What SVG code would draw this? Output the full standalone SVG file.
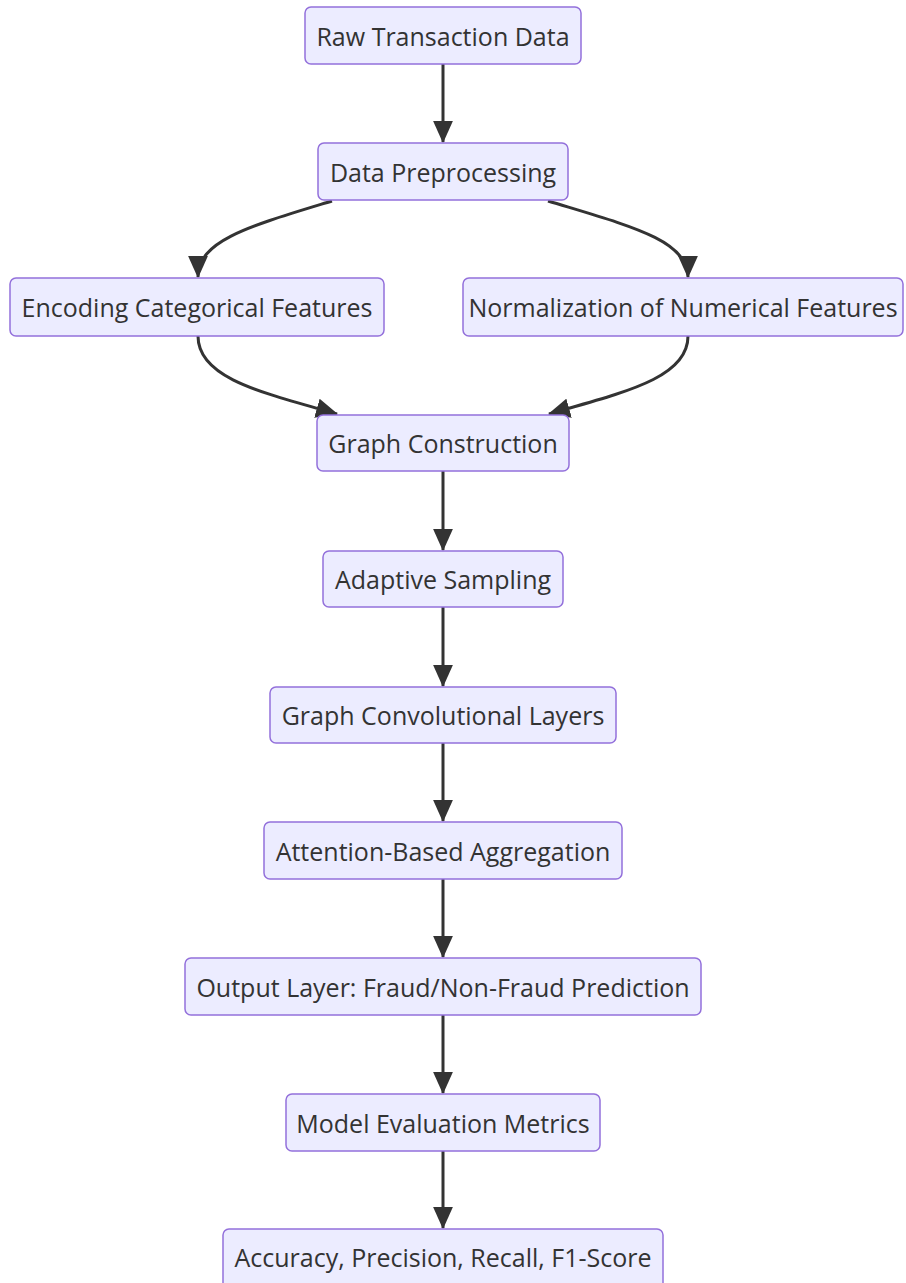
<svg xmlns="http://www.w3.org/2000/svg" width="906" height="1283" viewBox="0 0 906 1283">
<style>
.node rect{fill:#ececff;stroke:#9370db;stroke-width:1.5}
.node text{font-family:"Open Sans","Liberation Sans",sans-serif;font-size:25px;fill:#333;text-anchor:middle;dominant-baseline:central}
.edge{fill:none;stroke:#333;stroke-width:3}
</style>
<defs>
<marker id="arr" viewBox="0 0 10 9" refX="9.5" refY="4.5" markerWidth="22" markerHeight="20" markerUnits="userSpaceOnUse" orient="auto">
<path d="M0,0 L10,4.5 L0,9 z" fill="#333"/>
</marker>
</defs>
<rect width="906" height="1283" fill="#fff"/>
<g id="connectors">
<path class="edge" marker-end="url(#arr)" d="M443,64 L443,142"/>
<path class="edge" marker-end="url(#arr)" d="M332,201 C250,226 198,240 198,277"/>
<path class="edge" marker-end="url(#arr)" d="M548,201 C630,226 688,240 688,277"/>
<path class="edge" marker-end="url(#arr)" d="M198,336 C198,378 260,392 337,414"/>
<path class="edge" marker-end="url(#arr)" d="M688,336 C688,378 625,392 549,414"/>
<path class="edge" marker-end="url(#arr)" d="M443,471 L443,550"/>
<path class="edge" marker-end="url(#arr)" d="M443,607 L443,686"/>
<path class="edge" marker-end="url(#arr)" d="M443,743 L443,821"/>
<path class="edge" marker-end="url(#arr)" d="M443,879 L443,957"/>
<path class="edge" marker-end="url(#arr)" d="M443,1015 L443,1093"/>
<path class="edge" marker-end="url(#arr)" d="M443,1151 L443,1228"/>
</g>
<g id="n1" class="node"><rect x="305" y="7" width="276" height="57" rx="6"/><text x="443" y="35.5">Raw Transaction Data</text></g>
<g id="n2" class="node"><rect x="318" y="143" width="250" height="57" rx="6"/><text x="443" y="171.5">Data Preprocessing</text></g>
<g id="n3" class="node"><rect x="10" y="278" width="374" height="58" rx="6"/><text x="197" y="307">Encoding Categorical Features</text></g>
<g id="n4" class="node"><rect x="463" y="278" width="440" height="58" rx="6"/><text x="683" y="307">Normalization of Numerical Features</text></g>
<g id="n5" class="node"><rect x="317" y="415" width="252" height="56" rx="6"/><text x="443" y="443">Graph Construction</text></g>
<g id="n6" class="node"><rect x="323" y="551" width="240" height="56" rx="6"/><text x="443" y="579">Adaptive Sampling</text></g>
<g id="n7" class="node"><rect x="270" y="687" width="346" height="56" rx="6"/><text x="443" y="715">Graph Convolutional Layers</text></g>
<g id="n8" class="node"><rect x="264" y="822" width="358" height="57" rx="6"/><text x="443" y="850.5">Attention-Based Aggregation</text></g>
<g id="n9" class="node"><rect x="185" y="958" width="516" height="57" rx="6"/><text x="443" y="986.5">Output Layer: Fraud/Non-Fraud Prediction</text></g>
<g id="n10" class="node"><rect x="286" y="1094" width="314" height="57" rx="6"/><text x="443" y="1122.5">Model Evaluation Metrics</text></g>
<g id="n11" class="node"><rect x="223" y="1229" width="440" height="60" rx="6"/><text x="443" y="1257">Accuracy, Precision, Recall, F1-Score</text></g>
</svg>
